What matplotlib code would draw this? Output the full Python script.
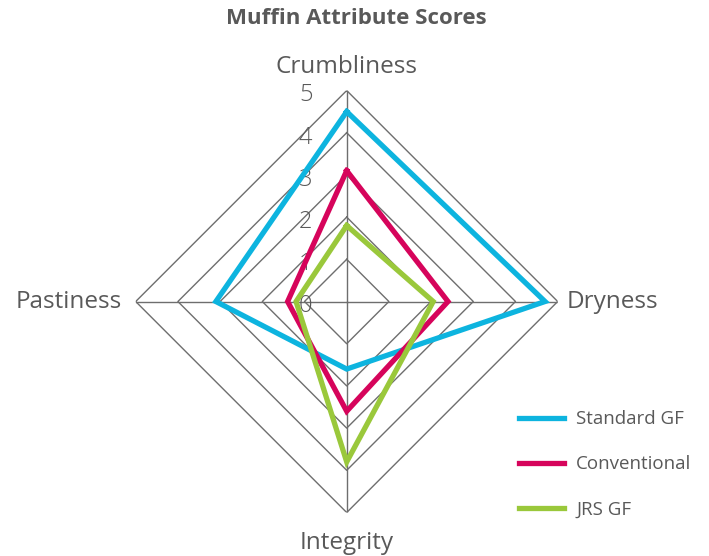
import numpy as np
import matplotlib
matplotlib.use("Agg")
import matplotlib.pyplot as plt

categories = ["Crumbliness", "Dryness", "Integrity", "Pastiness"]
standard_gf = [4.5, 4.7, 1.6, 3.1]
conventional = [3.1, 2.4, 2.6, 1.4]
jrs_gf = [1.8, 2.05, 3.8, 1.2]
series_names = ["Standard GF", "Conventional", "JRS GF"]
tick_values = [0, 1, 2, 3, 4, 5]

colors = ["#0db4df", "#d6045b", "#9ac83b"]
text_color = "#595959"
grid_color = "#6e6e6e"

plt.rcParams['font.family'] = ['Open Sans', 'DejaVu Sans']

fig = plt.figure(figsize=(7.09, 5.56), dpi=100)
ax = fig.add_axes([0.1914, 0.0782, 0.5952, 0.759], projection='polar')
ax.set_theta_offset(np.pi / 2)
ax.set_theta_direction(-1)
ax.set_ylim(0, 5)
ax.grid(False)
ax.set_xticks([])
ax.set_yticks([])
ax.spines['polar'].set_visible(False)
ax.patch.set_visible(False)

n = len(categories)
angles = [2 * np.pi * i / n for i in range(n)]
closed = angles + angles[:1]

# polygon grid rings
for r in tick_values[1:]:
    ax.plot(closed, [r] * (n + 1), color=grid_color, lw=1.0, zorder=1)
# spokes
for a in angles:
    ax.plot([a, a], [0, 5], color=grid_color, lw=1.0, zorder=1)

for vals, c, name in zip([standard_gf, conventional, jrs_gf], colors, series_names):
    ax.plot(closed, vals + vals[:1], color=c, lw=3.8, label=name, zorder=3,
            solid_joinstyle='miter')

# radial tick labels
for v in tick_values:
    ax.annotate(str(v), xy=(0, v), xytext=(-29.5, -3.5), textcoords='offset points',
                ha='center', va='center', fontsize=17, fontweight='light',
                color=text_color, zorder=2)

# category labels
fs = 17.5
ax.text(angles[0], 5.55, categories[0], ha='center', va='center', fontsize=fs, color=text_color)
ax.text(angles[1], 5.2, categories[1], ha='left', va='center', fontsize=fs, color=text_color)
ax.text(angles[2], 5.72, categories[2], ha='center', va='center', fontsize=fs, color=text_color)
ax.text(angles[3], 5.33, categories[3], ha='right', va='center', fontsize=fs, color=text_color)

fig.text(0.503, 0.966, "Muffin Attribute Scores", ha='center', va='center',
         fontsize=16, fontweight='bold', color=text_color)

leg = fig.legend(loc='center left', bbox_to_anchor=(0.708, 0.165), frameon=False,
                 fontsize=13.5, handlelength=2.4, handletextpad=0.65, labelspacing=1.45)
for t in leg.get_texts():
    t.set_color(text_color)

fig.savefig("out.png", dpi=100)
